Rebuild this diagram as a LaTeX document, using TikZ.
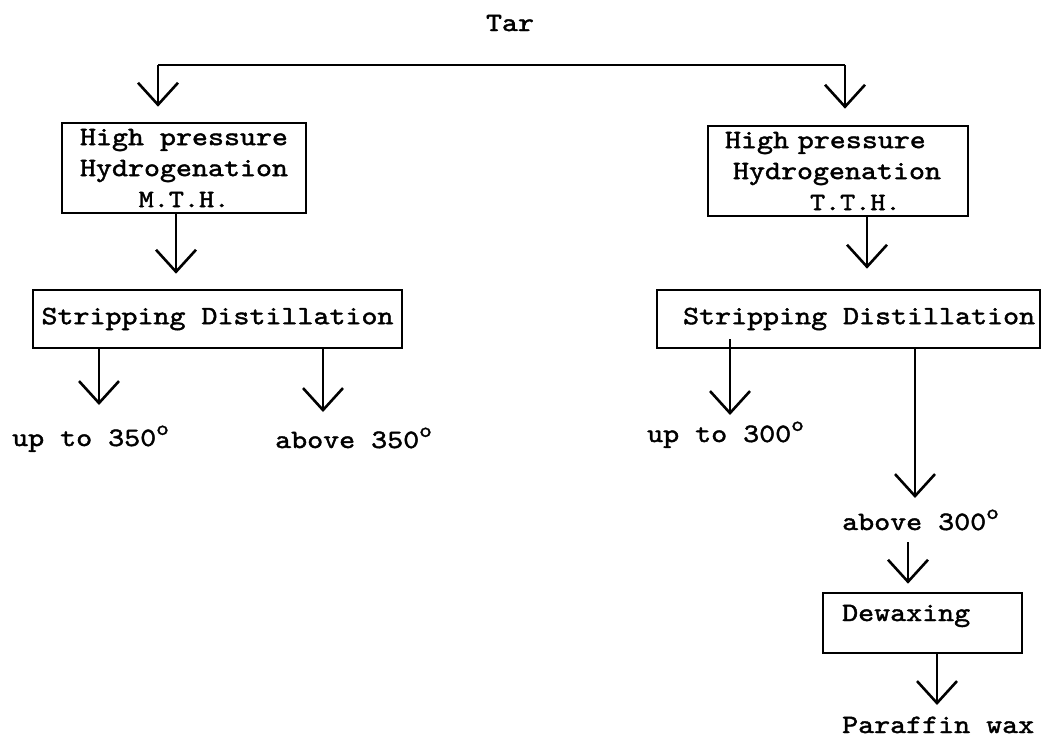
\documentclass[tikz,border=0pt]{standalone}
\usepackage{fontspec}
\newfontfamily\tw[FakeStretch=1.15,FakeBold=1.6]{lmmono10-regular.otf}
\usetikzlibrary{arrows.meta,calc}
\newcommand{\dg}{\raisebox{0.42em}{\fontsize{21}{21}\selectfont o}}
\begin{document}
\begin{tikzpicture}[x=1pt,y=-1pt,
  every node/.style={font=\tw\fontsize{26.5}{31}\selectfont, inner sep=0pt},
  box/.style={draw, line width=2.6pt, align=center},
  lbl/.style={anchor=base west},
  conn/.style={line width=2.6pt},
  arr/.style={line width=2.6pt, -{Straight Barb[length=22pt,width=40pt,line width=2.6pt]}}]
\useasboundingbox (0,0) rectangle (1041,739);

\node[anchor=base] (tar) at (510,31) {Tar};
\coordinate (bl) at (158,65);
\coordinate (br) at (845,65);

\node[box, minimum width=244pt, minimum height=90pt] (hp1) at (184,168)
  {High pressure\\Hydrogenation\\{\fontsize{25}{31}\selectfont M.T.H.}};
\node[box, align=left, text width=260pt, minimum height=90pt] (hp2) at (838,171)
  {\hspace*{17pt}High pressure\\\hspace*{25pt}Hydrogenation\\{\fontsize{25}{31}\selectfont\hspace*{102pt}T.T.H.}};

\node[box, minimum width=369pt, minimum height=58pt] (sd1) at (217.5,319) {Stripping Distillation};
\node[box, minimum width=383pt, minimum height=58pt] (sd2) at (848.5,319) {\hspace{0.8em}Stripping Distillation};

\node[lbl] (up350) at (12,446) {up to 350\dg};
\node[lbl] (ab350) at (275,448) {above 350\dg};
\node[lbl] (up300) at (647,442) {up to 300\dg};
\node[lbl] (ab300) at (842,530) {above 300\dg};

\node[draw, line width=2.6pt, minimum width=199pt, minimum height=60pt] (dew) at (922.5,623) {};
\node[lbl] (dewt) at (842,621) {Dewaxing};
\node[lbl] (pw) at (842,733) {Paraffin wax};

% x positions of the vertical connectors
\coordinate (c1) at (176,0);
\coordinate (c2) at (867,0);
\coordinate (c3) at (99,0);
\coordinate (c4) at (323,0);
\coordinate (c5) at (730,0);
\coordinate (c6) at (915,0);
\coordinate (c7) at (908,0);
\coordinate (c8) at (937,0);

\draw[conn] (bl) -- (br);
\draw[arr, shorten >=15pt] (bl) -- (bl |- hp1.north);
\draw[arr, shorten >=16pt] (br) -- (br |- hp2.north);

\draw[arr, shorten >=15pt] (hp1.south -| c1) -- (sd1.north -| c1);
\draw[arr, shorten >=20pt] (hp2.south -| c2) -- (sd2.north -| c2);

\draw[arr] (sd1.south -| c3) -- ($(up350.base -| c3)+(0,-41)$);
\draw[arr] (sd1.south -| c4) -- ($(ab350.base -| c4)+(0,-36)$);
\draw[arr] ($(sd2.south -| c5)+(0,-10)$) -- ($(up300.base -| c5)+(0,-27)$);
\draw[arr] (sd2.south -| c6) -- ($(ab300.base -| c6)+(0,-32)$);

\draw[arr, shorten >=8pt] ($(ab300.base -| c7)+(0,12)$) -- (dew.north -| c7);
\draw[arr] (dew.south -| c8) -- ($(pw.base -| c8)+(0,-28)$);
\end{tikzpicture}
\end{document}
